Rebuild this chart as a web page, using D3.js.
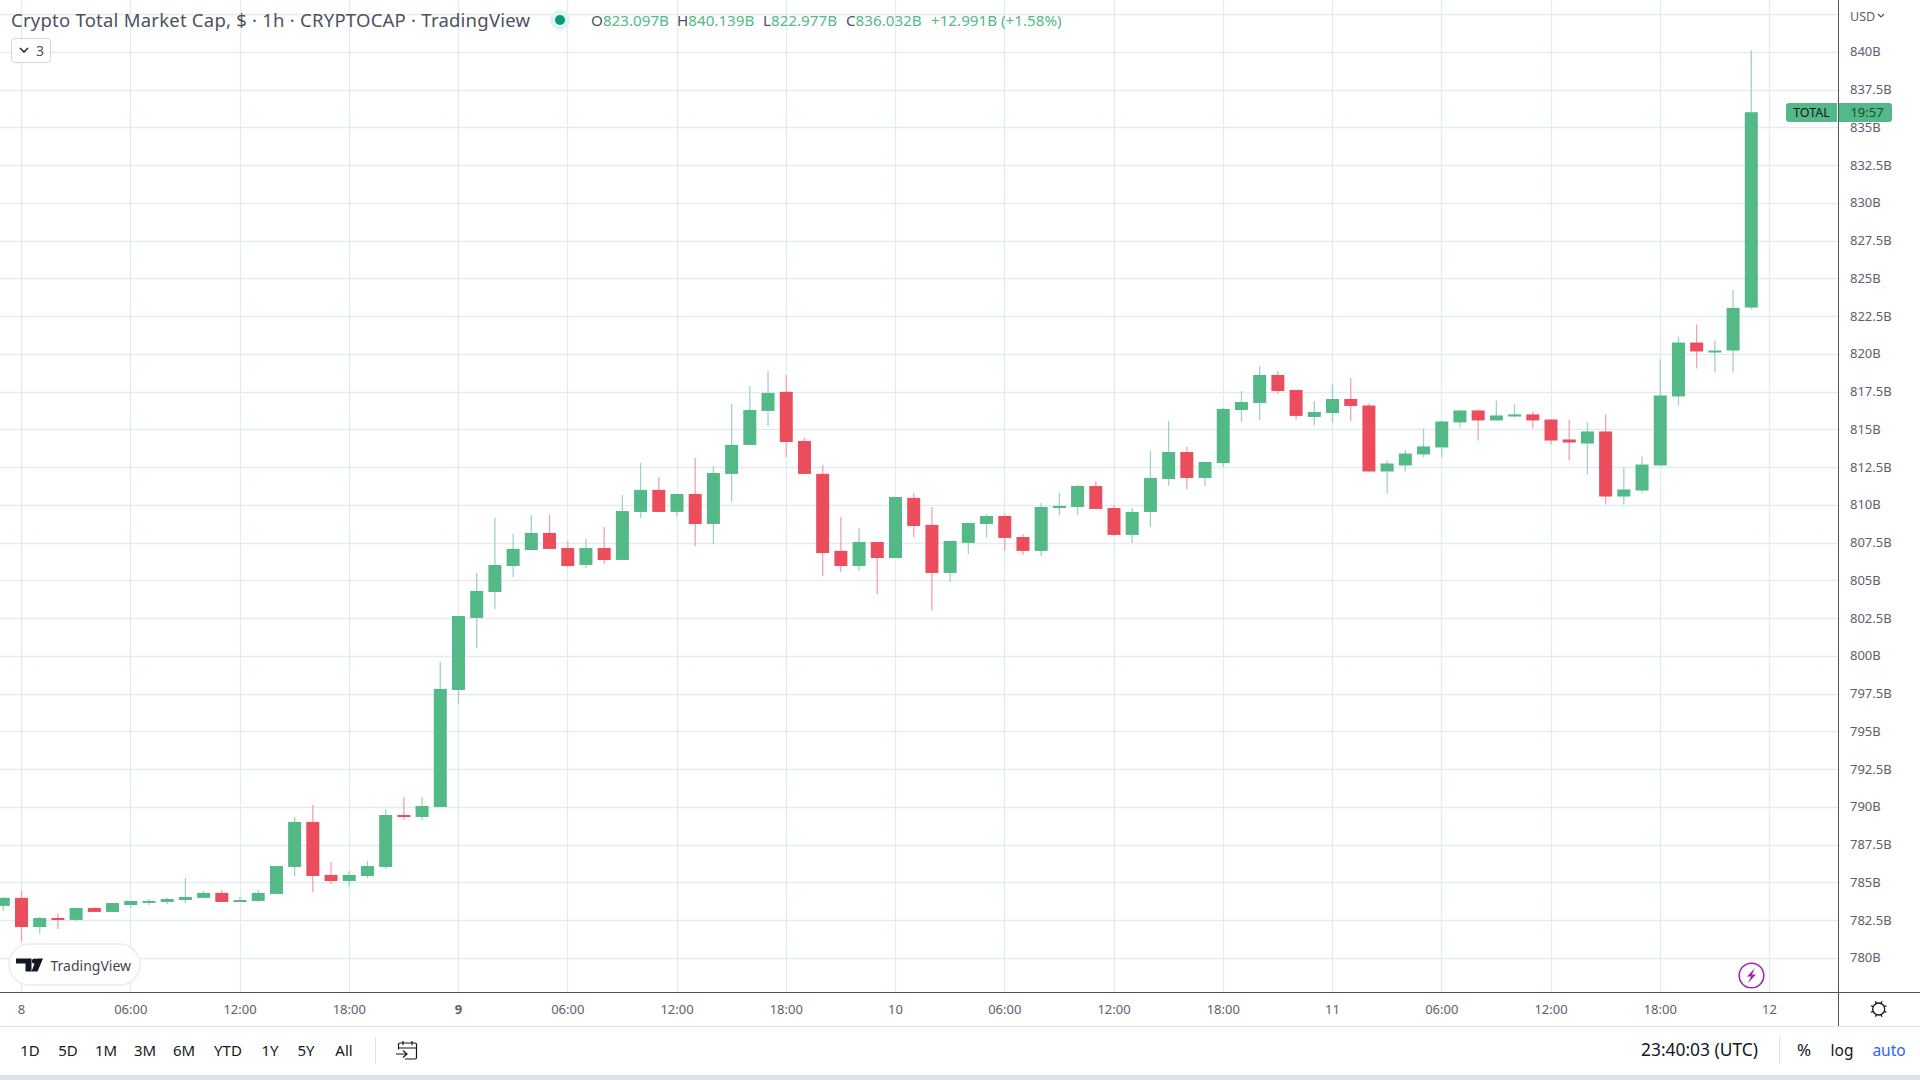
<!DOCTYPE html>
<html><head><meta charset="utf-8">
<style>
html,body{margin:0;padding:0;background:#fff;overflow:hidden}
svg{display:block}
text{font-family:"Noto Sans",sans-serif}
</style>
<script src="https://cdn.jsdelivr.net/npm/d3@7/dist/d3.min.js"></script>
</head><body><svg id="c" width="1920" height="1080"></svg>
<script>
const barHours = d3.range(-1, 96);
const opens = [783.47,784.0,782.07,782.67,782.54,783.33,783.07,783.53,783.73,783.73,783.86,784.0,784.33,783.73,783.8,784.26,786.05,789.03,785.52,785.12,785.45,786.05,789.49,789.36,790.02,797.77,802.54,804.26,805.98,807.04,808.17,807.17,806.05,807.17,806.38,809.56,811.02,809.56,810.75,808.76,812.08,814.0,816.25,817.51,814.26,812.08,806.98,805.98,807.57,806.51,810.49,808.7,805.52,807.51,808.76,809.29,807.9,806.98,809.82,809.89,811.28,809.82,808.04,809.56,811.74,813.53,811.81,812.8,816.31,816.78,818.63,817.64,815.85,816.11,817.04,816.61,812.24,812.64,813.37,813.83,815.49,816.28,815.62,815.88,816.02,815.68,814.36,814.09,814.89,810.58,810.98,812.64,817.21,820.78,820.12,820.25,823.097];
const highs = [784.06,784.46,782.74,783.0,783.33,783.4,783.66,783.8,783.93,784.0,785.32,784.46,784.53,784.06,784.53,786.11,789.36,790.15,786.38,785.78,786.45,789.89,790.68,790.68,799.62,802.67,805.52,809.16,808.1,809.36,809.36,807.64,807.77,808.57,810.68,812.8,811.88,810.75,813.13,812.6,816.71,817.9,818.9,818.63,814.46,812.67,809.23,808.5,807.57,810.55,810.82,809.89,807.64,808.83,809.43,809.43,808.1,810.15,810.82,811.35,811.61,810.02,809.82,813.6,815.58,813.86,812.87,816.45,817.57,819.23,818.9,817.64,816.91,818.04,818.43,816.74,812.97,813.7,815.09,815.62,816.28,816.35,816.94,816.68,816.21,815.68,815.68,815.49,816.02,812.51,813.23,819.66,821.18,821.98,820.92,824.26,840.139];
const lows = [783.13,781.15,781.61,781.94,782.47,783.07,783.07,783.33,783.53,783.6,783.66,784.0,783.73,783.73,783.73,784.26,785.45,784.39,784.92,784.72,785.32,785.92,789.16,789.16,790.02,796.84,800.55,803.13,805.25,807.04,807.11,805.92,805.85,806.11,806.38,809.16,809.56,809.29,807.31,807.44,810.22,814.0,815.25,813.2,812.08,805.32,805.58,805.65,804.13,806.51,807.9,803.07,804.92,806.78,807.84,806.98,806.71,806.64,809.36,809.36,809.76,807.97,807.51,808.57,811.28,811.08,811.28,812.54,815.52,815.65,817.37,815.65,815.32,815.45,815.58,812.24,810.78,812.24,813.17,813.17,815.15,814.29,815.62,815.82,815.09,814.03,812.97,812.04,810.06,810.06,810.85,812.64,816.61,819.06,818.8,818.8,822.977];
const closes = [784.0,782.07,782.67,782.54,783.33,783.07,783.66,783.8,783.8,783.93,784.06,784.33,783.73,783.86,784.33,786.11,789.03,785.45,785.12,785.52,786.11,789.49,789.36,790.09,797.84,802.67,804.33,806.05,807.11,808.17,807.11,805.98,807.17,806.38,809.62,811.02,809.56,810.75,808.76,812.14,814.0,816.31,817.44,814.19,812.08,806.84,805.98,807.57,806.51,810.55,808.63,805.52,807.64,808.83,809.29,807.84,806.98,809.89,809.96,811.28,809.76,808.04,809.56,811.81,813.53,811.81,812.87,816.38,816.84,818.63,817.57,815.92,816.18,817.04,816.58,812.24,812.77,813.43,813.9,815.55,816.28,815.62,815.95,816.02,815.62,814.29,814.16,814.89,810.58,811.05,812.7,817.27,820.78,820.19,820.25,823.07,836.032];
const priceTicks = [780,782.5,785,787.5,790,792.5,795,797.5,800,802.5,805,807.5,810,812.5,815,817.5,820,822.5,825,827.5,830,832.5,835,837.5,840];
const extraGridPrices = [842.5];
const timeTickHours = [0,6,12,18,24,30,36,42,48,54,60,66,72,78,84,90,96];
const timeTickLabels = ["8","06:00","12:00","18:00","9","06:00","12:00","18:00","10","06:00","12:00","18:00","11","06:00","12:00","18:00","12"];
const boldTimeLabels = ["9"];
const rangeButtons = ["1D","5D","1M","3M","6M","YTD","1Y","5Y","All"];
const rangeCenters = [30,68,106,145,184,228,270,306,344];
const legendParts = [["O","823.097B"],["H","840.139B"],["L","822.977B"],["C","836.032B"]];
const legendX = [591,677,763,846];

const GREEN="#53b987", RED="#eb4d5c", WICK_G="#a3cfcf", WICK_R="#f8a1ae", GRID="#e1ecf2", AXIS="#50535e", TXT="#131722";
const svg=d3.select("#c");
const x=d3.scaleLinear().domain([0,96]).range([21.5,1769.5]);
const y=d3.scaleLinear().domain([780,840]).range([958.3,52.3]);
const PR=1838.5, PB=992.5;
const snap=v=>Math.round(v-0.5)+0.5;

svg.append("rect").attr("width",1920).attr("height",1080).attr("fill","#fff");
// grid
const grid=svg.append("g").attr("stroke",GRID).attr("stroke-width",1.3);
grid.selectAll(".h").data(priceTicks.concat(extraGridPrices)).join("line")
  .attr("x1",0).attr("x2",PR).attr("y1",d=>snap(y(d))).attr("y2",d=>snap(y(d)));
grid.selectAll(".v").data(timeTickHours).join("line")
  .attr("y1",0).attr("y2",PB).attr("x1",d=>snap(x(d))).attr("x2",d=>snap(x(d)));

// candles
const bars=barHours.map((h,i)=>({h,o:opens[i],hi:highs[i],l:lows[i],c:closes[i]}));
const gc=svg.append("g");
gc.selectAll("line").data(bars).join("line")
  .attr("x1",d=>x(d.h)).attr("x2",d=>x(d.h))
  .attr("y1",d=>y(d.hi)).attr("y2",d=>y(d.l))
  .attr("stroke",d=>d.c>=d.o?WICK_G:WICK_R).attr("stroke-width",1.3);
gc.selectAll("rect").data(bars).join("rect")
  .attr("x",d=>x(d.h)-6.5).attr("width",13)
  .attr("y",d=>y(Math.max(d.o,d.c))).attr("height",d=>Math.max(2,Math.abs(y(d.o)-y(d.c))))
  .attr("fill",d=>d.c>=d.o?GREEN:RED);

// axes
const yAxis=d3.axisRight(y).tickValues(priceTicks).tickSize(0).tickPadding(0).tickFormat(d=>d+"B");
const gy=svg.append("g").attr("transform","translate(1850,-0.6)").call(yAxis);
gy.select(".domain").remove();
gy.selectAll("text").attr("font-size",13).attr("fill","#5d606b").style("font-family",'"Noto Sans",sans-serif');

const xAxis=d3.axisBottom(x).tickValues(timeTickHours).tickSize(0).tickPadding(0).tickFormat((d,i)=>timeTickLabels[i]);
const gx=svg.append("g").attr("transform","translate(-0.5,1005)").call(xAxis);
gx.select(".domain").remove();
gx.selectAll("text").attr("font-size",13).attr("fill","#5d606b").style("font-family",'"Noto Sans",sans-serif')
  .attr("font-weight",(d,i)=>boldTimeLabels.includes(timeTickLabels[i])?700:400);

// frame lines
const fr=svg.append("g").attr("shape-rendering","crispEdges");
fr.append("line").attr("x1",0).attr("x2",1920).attr("y1",PB).attr("y2",PB).attr("stroke",AXIS);
fr.append("line").attr("x1",PR).attr("x2",PR).attr("y1",0).attr("y2",1026).attr("stroke",AXIS);
fr.append("line").attr("x1",0).attr("x2",1920).attr("y1",1026.5).attr("y2",1026.5).attr("stroke","#e0e3eb");
svg.append("rect").attr("x",0).attr("y",1075).attr("width",1920).attr("height",5).attr("fill","#e0e3eb");

// header
svg.append("text").attr("x",11).attr("y",27).attr("font-size",18.5).attr("letter-spacing",0.23).attr("fill","#4c525e")
  .text("Crypto Total Market Cap, $ · 1h · CRYPTOCAP · TradingView");
svg.append("circle").attr("cx",560).attr("cy",20).attr("r",10).attr("fill","#e0f3ef");
svg.append("circle").attr("cx",560).attr("cy",20).attr("r",5).attr("fill","#089981");
legendParts.forEach(([k,v],i)=>{
  const t=svg.append("text").attr("x",legendX[i]).attr("y",26).attr("font-size",15.2);
  t.append("tspan").attr("fill","#4c525e").text(k);
  t.append("tspan").attr("fill",GREEN).text(v);
});
svg.append("text").attr("x",931).attr("y",26).attr("font-size",15.2).attr("fill",GREEN).text("+12.991B (+1.58%)");
svg.append("rect").attr("x",11.5).attr("y",38.5).attr("width",39).attr("height",24).attr("rx",3).attr("fill","#fff").attr("stroke","#d1d4dc");
svg.append("path").attr("d","M20 48l4 4 4-4").attr("fill","none").attr("stroke",TXT).attr("stroke-width",1.4);
svg.append("text").attr("x",36).attr("y",56).attr("font-size",14).attr("fill","#4c525e").text("3");

// USD
svg.append("text").attr("x",1850).attr("y",21).attr("font-size",12.5).attr("fill","#5d606b").text("USD");
svg.append("path").attr("d","M1878 14l3 3 3-3").attr("fill","none").attr("stroke","#50535e").attr("stroke-width",1.2);

// TOTAL tag
const lastClose=closes[closes.length-1];
const tagY=y(lastClose)+0.3;
svg.append("path").attr("d",`M1837 ${tagY-9.5}h-48a3 3 0 0 0 -3 3v13a3 3 0 0 0 3 3h48z`).attr("fill",GREEN);
svg.append("path").attr("d",`M1839 ${tagY-9.5}h50a3 3 0 0 1 3 3v13a3 3 0 0 1 -3 3h-50z`).attr("fill",GREEN);
svg.append("text").attr("x",1811.5).attr("y",tagY+4.5).attr("text-anchor","middle").attr("font-size",12.5).attr("fill",TXT).text("TOTAL");
svg.append("text").attr("x",1867).attr("y",tagY+4.5).attr("text-anchor","middle").attr("font-size",13).attr("fill","#1e4a3a").text("19:57");

// TradingView badge
svg.append("rect").attr("x",9).attr("y",944).attr("width",131).attr("height",41).attr("rx",20.5).attr("fill","#fff").attr("stroke","#ececec").attr("stroke-width",1.5);
svg.append("path").attr("d","M16 958.5h15.5v13h-6v-8h-9.5z M43 958.5 L37.5 971.5 H31.5 L36.5 958.5z").attr("fill","#131722");
svg.append("circle").attr("cx",34.5).attr("cy",961).attr("r",2.6).attr("fill","#131722");
svg.append("text").attr("x",50.5).attr("y",970.5).attr("font-size",14).attr("fill","#434651").text("TradingView");

// lightning
svg.append("circle").attr("cx",1751.5).attr("cy",975.5).attr("r",12.3).attr("fill","#fff").attr("stroke","#9c27b0").attr("stroke-width",1.6);
svg.append("path").attr("d","M1755 968 L1747 976.5 H1751 L1748 983 L1756 974.5 H1752z").attr("fill","#9c27b0");

// gear-like sun
const gear=svg.append("g").attr("transform","translate(1878.7,1009)").attr("stroke",TXT).attr("fill","none").attr("stroke-width",1.3);
gear.append("circle").attr("r",6);
d3.range(8).forEach(i=>{const a=i*Math.PI/4+Math.PI/8;
  gear.append("line").attr("x1",6*Math.cos(a)).attr("y1",6*Math.sin(a)).attr("x2",8.5*Math.cos(a)).attr("y2",8.5*Math.sin(a));});

// bottom toolbar
svg.append("g").selectAll("text").data(rangeButtons).join("text")
  .attr("x",(d,i)=>rangeCenters[i]).attr("y",1056).attr("text-anchor","middle")
  .attr("font-size",15).attr("fill",TXT).text(d=>d);
svg.append("line").attr("x1",375.5).attr("x2",375.5).attr("y1",1037).attr("y2",1064).attr("stroke","#e0e3eb");
svg.append("path").attr("transform","translate(-1,0)").attr("d","M401 1043h15a1.5 1.5 0 0 1 1.5 1.5v13a1.5 1.5 0 0 1 -1.5 1.5h-10 M401 1043a1.5 1.5 0 0 0 -1.5 1.5v5 M399.5 1048h18 M404 1041v4 M413 1041v4 M397 1054h11 M404 1050.5l4 3.5-4 3.5").attr("fill","none").attr("stroke",TXT).attr("stroke-width",1.2);
svg.append("text").attr("x",1641).attr("y",1056).attr("font-size",17.4).attr("fill",TXT).text("23:40:03 (UTC)");
svg.append("line").attr("x1",1779.5).attr("x2",1779.5).attr("y1",1037).attr("y2",1064).attr("stroke","#e0e3eb");
svg.append("text").attr("x",1804).attr("y",1056).attr("text-anchor","middle").attr("font-size",17).attr("fill",TXT).text("%");
svg.append("text").attr("x",1842).attr("y",1056).attr("text-anchor","middle").attr("font-size",15.5).attr("fill",TXT).text("log");
svg.append("text").attr("x",1889).attr("y",1056).attr("text-anchor","middle").attr("font-size",15.5).attr("fill","#2962ff").text("auto");
</script></body></html>
